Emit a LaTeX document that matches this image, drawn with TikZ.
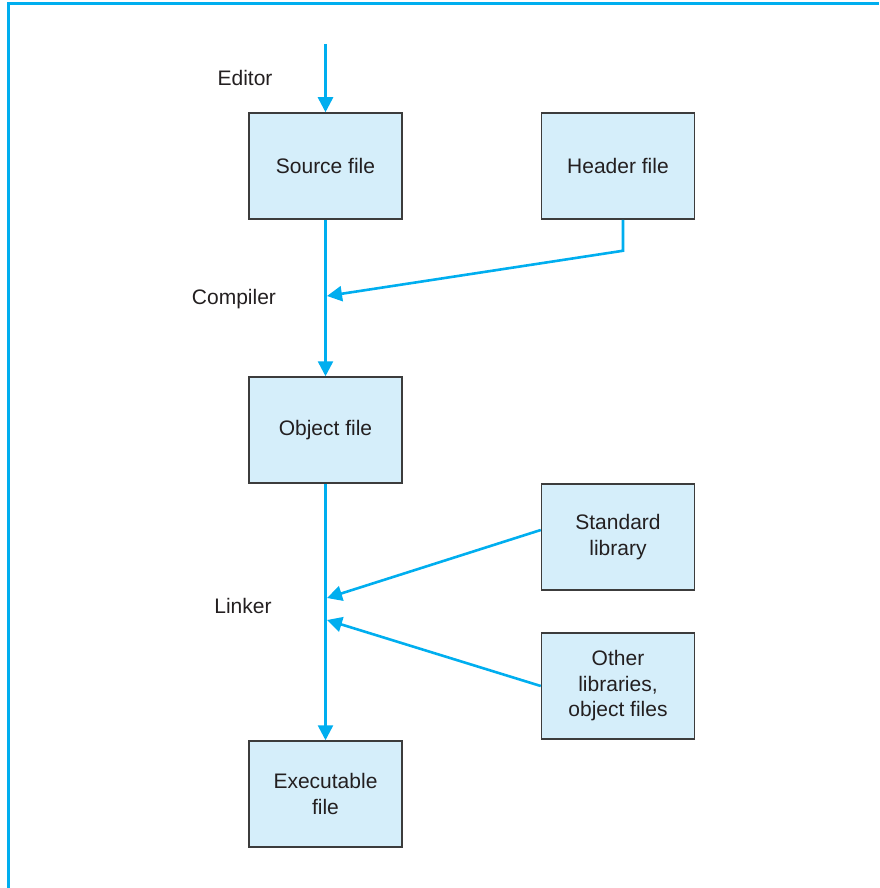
\documentclass[tikz,border=0pt]{standalone}
\usepackage{fontspec}
\setmainfont{Liberation Sans}
\usetikzlibrary{arrows.meta}

\definecolor{flowblue}{RGB}{0,174,239}
\definecolor{boxfill}{RGB}{213,238,250}
\definecolor{boxline}{RGB}{60,60,60}
\definecolor{txtgray}{RGB}{35,31,32}

\tikzset{
    filebox/.style={draw=boxline, line width=1.5pt, fill=boxfill,
        minimum width=153pt, minimum height=106pt, align=center,
        text=txtgray, font=\fontsize{21}{25.5}\selectfont},
    steplabel/.style={text=txtgray, font=\fontsize{21}{25.5}\selectfont},
    flow/.style={draw=flowblue, line width=2.6pt,
        -{Triangle[length=15pt,width=15pt]}}
}

\begin{document}
\begin{tikzpicture}[x=1pt, y=-1pt]
    \useasboundingbox (0,0) rectangle (879,888);
    \draw[flowblue, line width=3pt] (8,888) -- (8,4) -- (879,4);

    % boxes
    \node[filebox] (src) at (325.5,166) {Source file};
    \node[filebox] (hdr) at (618,166) {Header file};
    \node[filebox] (obj) at (325.5,430) {Object file};
    \node[filebox] (std) at (618,537) {Standard\\library};
    \node[filebox] (oth) at (618,686) {Other\\libraries,\\object files};
    \node[filebox] (exe) at (325.5,794) {Executable\\file};

    % stage labels
    \node[steplabel] (edt) at (245,78) {Editor};
    \node[steplabel] (cmp) at (234,299) {Compiler};
    \node[steplabel] (lnk) at (243,606) {Linker};

    \coordinate (start) at (325.5,44);
    \coordinate (hdrjoin) at (327,296);
    \coordinate (stdjoin) at (327,598);
    \coordinate (othjoin) at (327,620);

    \draw[flow] (start) -- (src.north);
    \draw[flow] (src.south) -- (obj.north);
    \draw[flow] ([xshift=5pt]hdr.south) -- ++(0,31) -- (hdrjoin);
    \draw[flow] (obj.south) -- (exe.north);
    \draw[flow] ([yshift=7pt]std.west) -- (stdjoin);
    \draw[flow] (oth.west) -- (othjoin);
\end{tikzpicture}
\end{document}
